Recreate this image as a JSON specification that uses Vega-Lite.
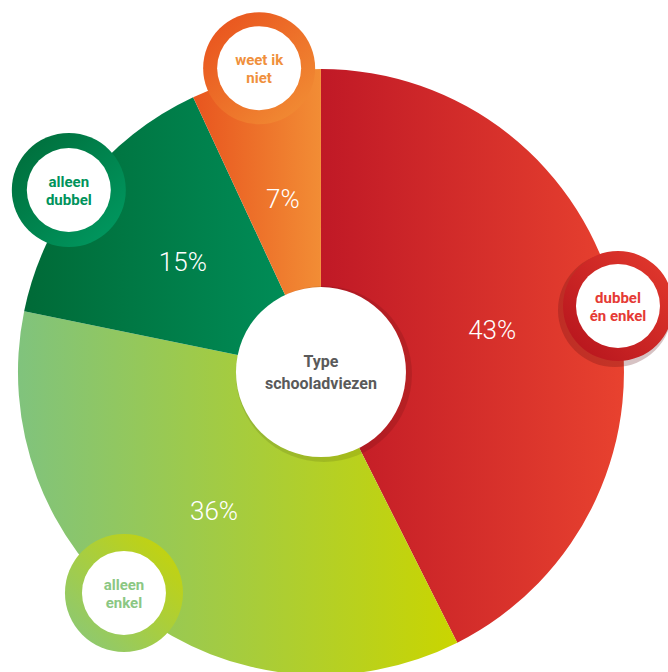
{
  "$schema": "https://vega.github.io/schema/vega-lite/v6.json",
  "width": 668,
  "height": 672,
  "autosize": "none",
  "padding": 0,
  "background": "white",
  "config": {"view": {"stroke": null}},
  "datasets": {
    "slices": [
      {"type": "dubbel én enkel", "pct": 43, "order": 1},
      {"type": "alleen enkel", "pct": 36, "order": 2},
      {"type": "alleen dubbel", "pct": 15, "order": 3},
      {"type": "weet ik niet", "pct": 7, "order": 4}
    ],
    "bubbles": [
      {"type": "weet ik niet", "label": "weet ik|niet", "bx": -0.204, "by": 1.003},
      {"type": "alleen dubbel", "label": "alleen|dubbel", "bx": -0.832, "by": 0.601},
      {"type": "dubbel én enkel", "label": "dubbel|én enkel", "bx": 0.98, "by": 0.218},
      {"type": "alleen enkel", "label": "alleen|enkel", "bx": -0.65, "by": -0.729}
    ],
    "center": [{"title": "Type|schooladviezen", "cx": 0, "cy": 0}]
  },
  "layer": [
    {
      "data": {"name": "slices"},
      "transform": [
        {"stack": "pct", "groupby": [], "sort": [{"field": "order", "order": "ascending"}], "as": ["t0", "t1"]},
        {"filter": "datum.type === 'dubbel én enkel'"}
      ],
      "mark": {"type": "arc", "outerRadius": 303, "innerRadius": 0,
        "fill": {"gradient": "linear", "x1": 0, "y1": 0, "x2": 1, "y2": 0,
          "stops": [{"offset": 0, "color": "#c01926"}, {"offset": 1, "color": "#e8422f"}]}},
      "encoding": {
        "theta": {"field": "t0", "type": "quantitative"},
        "theta2": {"field": "t1"},
        "x": {"datum": 0, "type": "quantitative", "scale": {"domain": [-1.059, 1.145], "nice": false, "zero": false}, "axis": null},
        "y": {"datum": 0, "type": "quantitative", "scale": {"domain": [-0.99, 1.228], "nice": false, "zero": false}, "axis": null}
      }
    },
    {
      "data": {"name": "slices"},
      "transform": [
        {"stack": "pct", "groupby": [], "sort": [{"field": "order", "order": "ascending"}], "as": ["t0", "t1"]},
        {"filter": "datum.type === 'alleen enkel'"}
      ],
      "mark": {"type": "arc", "outerRadius": 303, "innerRadius": 0,
        "fill": {"gradient": "linear", "x1": 0, "y1": 0, "x2": 1, "y2": 0,
          "stops": [{"offset": 0, "color": "#80c37d"}, {"offset": 1, "color": "#cad500"}]}},
      "encoding": {
        "theta": {"field": "t0", "type": "quantitative"},
        "theta2": {"field": "t1"},
        "x": {"datum": 0, "type": "quantitative"},
        "y": {"datum": 0, "type": "quantitative"}
      }
    },
    {
      "data": {"name": "slices"},
      "transform": [
        {"stack": "pct", "groupby": [], "sort": [{"field": "order", "order": "ascending"}], "as": ["t0", "t1"]},
        {"filter": "datum.type === 'alleen dubbel'"}
      ],
      "mark": {"type": "arc", "outerRadius": 303, "innerRadius": 0,
        "fill": {"gradient": "linear", "x1": 0, "y1": 0, "x2": 1, "y2": 0,
          "stops": [{"offset": 0, "color": "#006a37"}, {"offset": 1, "color": "#00915b"}]}},
      "encoding": {
        "theta": {"field": "t0", "type": "quantitative"},
        "theta2": {"field": "t1"},
        "x": {"datum": 0, "type": "quantitative"},
        "y": {"datum": 0, "type": "quantitative"}
      }
    },
    {
      "data": {"name": "slices"},
      "transform": [
        {"stack": "pct", "groupby": [], "sort": [{"field": "order", "order": "ascending"}], "as": ["t0", "t1"]},
        {"filter": "datum.type === 'weet ik niet'"}
      ],
      "mark": {"type": "arc", "outerRadius": 303, "innerRadius": 0,
        "fill": {"gradient": "linear", "x1": 0, "y1": 0, "x2": 1, "y2": 0,
          "stops": [{"offset": 0, "color": "#e8551f"}, {"offset": 1, "color": "#f28d35"}]}},
      "encoding": {
        "theta": {"field": "t0", "type": "quantitative"},
        "theta2": {"field": "t1"},
        "x": {"datum": 0, "type": "quantitative"},
        "y": {"datum": 0, "type": "quantitative"}
      }
    },
    {
      "data": {"name": "center"},
      "mark": {"type": "point", "shape": "circle", "filled": true, "fill": "#000000", "opacity": 0.1, "size": 30976, "strokeWidth": 0, "xOffset": 3, "yOffset": 2},
      "encoding": {
        "x": {"field": "cx", "type": "quantitative"},
        "y": {"field": "cy", "type": "quantitative"}
      }
    },
    {
      "data": {"name": "center"},
      "mark": {"type": "point", "shape": "circle", "filled": true, "fill": "#ffffff", "opacity": 1, "size": 28900, "strokeWidth": 0},
      "encoding": {
        "x": {"field": "cx", "type": "quantitative"},
        "y": {"field": "cy", "type": "quantitative"}
      }
    },
    {
      "data": {"name": "center"},
      "mark": {"type": "text", "lineBreak": "|", "font": "Roboto", "fontWeight": "bold", "fontSize": 16, "lineHeight": 22, "color": "#5a5a5a", "align": "center", "baseline": "middle", "dy": -10},
      "encoding": {
        "x": {"field": "cx", "type": "quantitative"},
        "y": {"field": "cy", "type": "quantitative"},
        "text": {"field": "title"}
      }
    },
    {
      "data": {"name": "slices"},
      "transform": [{"calculate": "datum.pct + '%'", "as": "label"}],
      "mark": {"type": "text", "radius": 176, "font": "Roboto", "fontWeight": 300, "fontSize": 26, "color": "#ffffff", "align": "center", "baseline": "middle"},
      "encoding": {
        "theta": {"field": "pct", "type": "quantitative", "stack": true},
        "order": {"field": "order", "type": "quantitative"},
        "x": {"datum": 0, "type": "quantitative"},
        "y": {"datum": 0, "type": "quantitative"},
        "text": {"field": "label"}
      }
    },
    {
      "data": {"name": "bubbles"},
      "transform": [{"filter": "datum.type === 'dubbel én enkel'"}],
      "mark": {"type": "point", "shape": "circle", "filled": true, "fill": "#5a0a10", "opacity": 0.25, "size": 12996, "strokeWidth": 0, "xOffset": -3, "yOffset": 4},
      "encoding": {
        "x": {"field": "bx", "type": "quantitative"},
        "y": {"field": "by", "type": "quantitative"}
      }
    },
    {
      "data": {"name": "bubbles"},
      "transform": [{"filter": "datum.type === 'weet ik niet'"}],
      "mark": {"type": "point", "shape": "circle", "filled": true, "opacity": 1, "size": 12544, "strokeWidth": 0,
        "fill": {"gradient": "linear", "x1": 0, "y1": 0, "x2": 1, "y2": 1,
          "stops": [{"offset": 0, "color": "#e84e1c"}, {"offset": 1, "color": "#f29236"}]}},
      "encoding": {
        "x": {"field": "bx", "type": "quantitative"},
        "y": {"field": "by", "type": "quantitative"}
      }
    },
    {
      "data": {"name": "bubbles"},
      "transform": [{"filter": "datum.type === 'alleen dubbel'"}],
      "mark": {"type": "point", "shape": "circle", "filled": true, "opacity": 1, "size": 12996, "strokeWidth": 0,
        "fill": {"gradient": "linear", "x1": 0, "y1": 0, "x2": 1, "y2": 1,
          "stops": [{"offset": 0, "color": "#006a38"}, {"offset": 1, "color": "#009c63"}]}},
      "encoding": {
        "x": {"field": "bx", "type": "quantitative"},
        "y": {"field": "by", "type": "quantitative"}
      }
    },
    {
      "data": {"name": "bubbles"},
      "transform": [{"filter": "datum.type === 'dubbel én enkel'"}],
      "mark": {"type": "point", "shape": "circle", "filled": true, "opacity": 1, "size": 12100, "strokeWidth": 0,
        "fill": {"gradient": "linear", "x1": 0, "y1": 1, "x2": 1, "y2": 0,
          "stops": [{"offset": 0, "color": "#b3121c"}, {"offset": 1, "color": "#e53b2e"}]}},
      "encoding": {
        "x": {"field": "bx", "type": "quantitative"},
        "y": {"field": "by", "type": "quantitative"}
      }
    },
    {
      "data": {"name": "bubbles"},
      "transform": [{"filter": "datum.type === 'alleen enkel'"}],
      "mark": {"type": "point", "shape": "circle", "filled": true, "opacity": 1, "size": 13924, "strokeWidth": 0,
        "fill": {"gradient": "linear", "x1": 1, "y1": 0, "x2": 0, "y2": 1,
          "stops": [{"offset": 0, "color": "#cad400"}, {"offset": 1, "color": "#86c77f"}]}},
      "encoding": {
        "x": {"field": "bx", "type": "quantitative"},
        "y": {"field": "by", "type": "quantitative"}
      }
    },
    {
      "data": {"name": "bubbles"},
      "mark": {"type": "point", "shape": "circle", "filled": true, "fill": "#ffffff", "opacity": 1, "size": 7056, "strokeWidth": 0},
      "encoding": {
        "x": {"field": "bx", "type": "quantitative"},
        "y": {"field": "by", "type": "quantitative"}
      }
    },
    {
      "data": {"name": "bubbles"},
      "mark": {"type": "text", "lineBreak": "|", "font": "Roboto", "fontWeight": "bold", "fontSize": 15, "lineHeight": 18, "align": "center", "baseline": "middle", "dy": -8},
      "encoding": {
        "x": {"field": "bx", "type": "quantitative"},
        "y": {"field": "by", "type": "quantitative"},
        "text": {"field": "label"},
        "color": {"field": "type", "type": "nominal", "legend": null,
          "scale": {"domain": ["weet ik niet", "alleen dubbel", "dubbel én enkel", "alleen enkel"],
                    "range": ["#f0903c", "#00935b", "#e53a35", "#8bc783"]}}
      }
    }
  ]
}
